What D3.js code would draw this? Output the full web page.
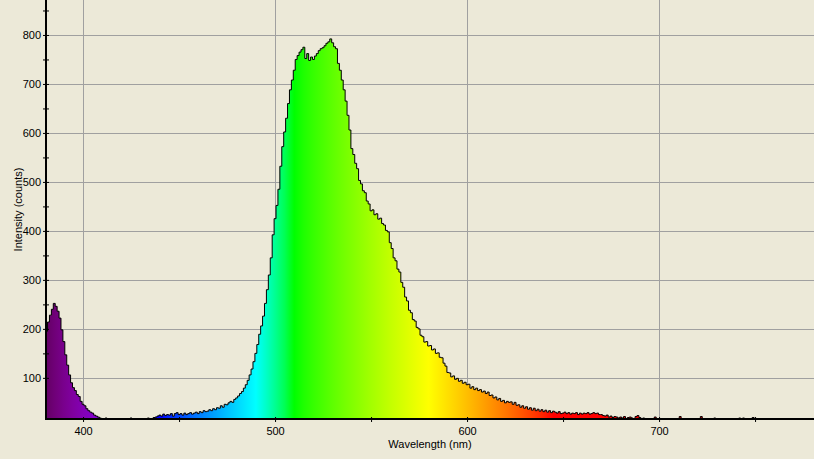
<!DOCTYPE html>
<html>
<head>
<meta charset="utf-8">
<script src="https://cdn.jsdelivr.net/npm/d3@7/dist/d3.min.js"></script>
<style>
  html, body { margin: 0; padding: 0; background: #ECE9D8; }
  svg { display: block; }
  text { font-family: "Liberation Sans", Arial, sans-serif; font-size: 11px; fill: #000; }
</style>
</head>
<body>
<svg id="chart" width="814" height="459"></svg>
<script>
// ---- data ----
const wavelengthStart = 380;   // nm, first sample
const wavelengthStep = 1;      // nm per sample
const intensity = [
 150,195,214,228,240,252,246,236,222,198, // 380-389
 174,147,126,106,90,80,74,66,62,52,        // 390-399
 46,43,37,33,30,28,24,22,20,18,            // 400-409
 17,16,18,15,16,17,15,16,14,15,            // 410-419
 17,14,15,14,16,18,15,14,16,17,            // 420-429
 15,16,15,17,18,16,17,19,20,22,            // 430-439
 24,22,26,23,25,24,27,22,27,29,            // 440-449
 25,27,24,28,25,27,29,26,28,30,            // 450-459
 27,31,29,33,31,32,35,33,37,35,            // 460-469
 39,38,43,40,46,45,49,52,50,56,            // 470-479
 59,63,68,72,79,86,95,106,118,133,         // 480-489
 150,168,189,206,226,252,280,310,345,392,  // 490-499
 425,452,485,532,572,602,630,660,688,708,  // 500-509
 728,750,758,765,770,775,752,762,748,755,  // 510-519
 750,757,762,768,772,774,778,783,786,792,  // 520-529
 784,776,772,742,728,708,688,665,636,606,  // 530-539
 568,556,538,527,503,496,482,478,461,455,  // 540-549
 441,443,433,435,424,426,415,412,401,398,  // 550-559
 376,364,345,339,322,316,295,285,265,257,  // 560-569
 238,233,219,216,203,200,187,184,173,174,  // 570-579
 165,166,157,159,150,151,142,141,130,124,  // 580-589
 111,110,102,104,97,99,93,95,89,91,        // 590-599
 86,87,79,82,76,79,74,76,71,73,            // 600-609
 68,71,64,65,59,61,55,58,52,54,            // 610-619
 49,52,50,51,46,50,44,45,40,43,            // 620-629
 38,41,36,39,34,38,33,36,32,35,            // 630-639
 31,34,30,33,29,32,30,28,31,27,            // 640-649
 28,30,27,29,26,28,27,29,25,28,            // 650-659
 26,28,27,29,26,27,29,27,28,25,            // 660-669
 25,23,22,24,20,22,19,21,20,18,            // 670-679
 20,18,21,17,19,20,18,17,21,23,            // 680-689
 19,17,18,16,17,16,17,15,20,17,            // 690-699
 16,15,16,14,15,17,14,15,14,16,            // 700-709
 15,21,13,15,17,13,14,15,17,13,            // 710-719
 12,13,21,12,13,12,11,12,13,18,            // 720-729
 14,13,12,11,12,13,12,11,12,13,            // 730-739
 12,13,18,12,18,13,12,11,12,19,            // 740-749
 12,11,12,13,12,11,12,13,12,11,            // 750-759
 12,11,12,13,12,11,12,13,12,11,            // 760-769
 12,11,12,13,12,11,12,13,12,11,12          // 770-780
];
const yTicks = [100, 200, 300, 400, 500, 600, 700, 800];
const yMinorTicks = [150, 250, 350, 450, 550, 650, 750, 850];
const xTicks = [400, 500, 600, 700];
const xMinorTicks = [450, 550, 650, 750];
const xTitle = "Wavelength (nm)";
const yTitle = "Intensity (counts)";

// ---- layout ----
const pLeft = 46, pRight = 814, pTop = 0, pBottom = 419;
const svg = d3.select("#chart");

const x = d3.scaleLinear().domain([380.7, 780.7]).range([pLeft, pRight]);
const y = d3.scaleLinear().domain([16, 871.4]).range([pBottom, pTop]);

const data = intensity.map((v, i) => ({ w: wavelengthStart + i * wavelengthStep, v }));

// wavelength -> colour (spectral approximation)
function waveColor(w) {
  let r = 0, g = 0, b = 0;
  if (w < 440) { r = -(w - 440) / 60; b = 1; }
  else if (w < 490) { g = (w - 440) / 50; b = 1; }
  else if (w < 510) { g = 1; b = -(w - 510) / 20; }
  else if (w < 580) { r = (w - 510) / 70; g = 1; }
  else if (w < 645) { r = 1; g = -(w - 645) / 65; }
  else { r = 1; }
  let f = 1;
  if (w < 420) f = 0.3 + 0.7 * (w - 380) / 40;
  else if (w > 700) f = 0.3 + 0.7 * (780 - w) / 80;
  const c = t => Math.round(255 * Math.pow(t * f, 0.8));
  return `rgb(${c(r)},${c(g)},${c(b)})`;
}

const defs = svg.append("defs");
defs.append("clipPath").attr("id", "plotClip")
  .append("rect").attr("x", pLeft).attr("y", pTop)
  .attr("width", pRight - pLeft).attr("height", pBottom - pTop);

const grad = defs.append("linearGradient").attr("id", "spec")
  .attr("gradientUnits", "userSpaceOnUse")
  .attr("x1", x(380)).attr("x2", x(780)).attr("y1", 0).attr("y2", 0);
d3.range(380, 781, 5).forEach(w => {
  grad.append("stop").attr("offset", (w - 380) / 400).attr("stop-color", waveColor(w));
});

// grid
const grid = svg.append("g").attr("stroke", "#A0A0A0").attr("stroke-width", 1);
grid.selectAll(".gy").data(yTicks).join("line")
  .attr("x1", pLeft).attr("x2", pRight)
  .attr("y1", d => Math.round(y(d)) + 0.5).attr("y2", d => Math.round(y(d)) + 0.5);
grid.selectAll(".gx").data(xTicks).join("line")
  .attr("y1", pTop).attr("y2", pBottom)
  .attr("x1", d => Math.round(x(d)) + 0.5).attr("x2", d => Math.round(x(d)) + 0.5);

// spectrum
const plot = svg.append("g").attr("clip-path", "url(#plotClip)");
const area = d3.area().curve(d3.curveStep)
  .x(d => x(d.w)).y0(pBottom).y1(d => Math.min(pBottom, y(d.v)));
const line = d3.line().curve(d3.curveStep)
  .x(d => x(d.w)).y(d => Math.min(pBottom, y(d.v)));
plot.append("path").datum(data).attr("d", area).attr("fill", "url(#spec)");
plot.append("path").datum(data).attr("d", line)
  .attr("fill", "none").attr("stroke", "#000").attr("stroke-width", 1);

// axes
const yAxis = svg.append("g").attr("transform", `translate(${pLeft},0)`)
  .call(d3.axisLeft(y).tickValues(yTicks).tickSize(3).tickPadding(2));
const yMinor = svg.append("g").attr("transform", `translate(${pLeft},0)`)
  .call(d3.axisLeft(y).tickValues(yMinorTicks).tickSize(3).tickFormat(""));
const xAxis = svg.append("g").attr("transform", `translate(0,${pBottom})`)
  .call(d3.axisBottom(x).tickValues(xTicks).tickSize(3).tickPadding(5));
const xMinor = svg.append("g").attr("transform", `translate(0,${pBottom})`)
  .call(d3.axisBottom(x).tickValues(xMinorTicks).tickSize(3).tickFormat(""));

[yAxis, yMinor, xAxis, xMinor].forEach(g => {
  g.select(".domain").remove();
  g.selectAll("text").attr("font-family", "Liberation Sans, Arial, sans-serif").attr("font-size", 11);
});
// ticks cross the axis line
[yAxis, yMinor].forEach(g => g.selectAll(".tick line").attr("x1", 3).attr("stroke", "#000"));
[xAxis, xMinor].forEach(g => g.selectAll(".tick line").attr("y1", -2).attr("stroke", "#000"));

svg.append("line").attr("x1", pLeft).attr("x2", pLeft).attr("y1", pTop).attr("y2", pBottom + 1)
  .attr("stroke", "#000").attr("stroke-width", 2);
svg.append("line").attr("x1", pLeft - 1).attr("x2", pRight).attr("y1", pBottom).attr("y2", pBottom)
  .attr("stroke", "#000").attr("stroke-width", 2);

// titles
svg.append("text").attr("x", (pLeft + pRight) / 2).attr("y", 448)
  .attr("text-anchor", "middle").text(xTitle);
svg.append("text").attr("transform", `translate(22,${(pTop + pBottom) / 2}) rotate(-90)`)
  .attr("text-anchor", "middle").text(yTitle);
</script>
</body>
</html>
